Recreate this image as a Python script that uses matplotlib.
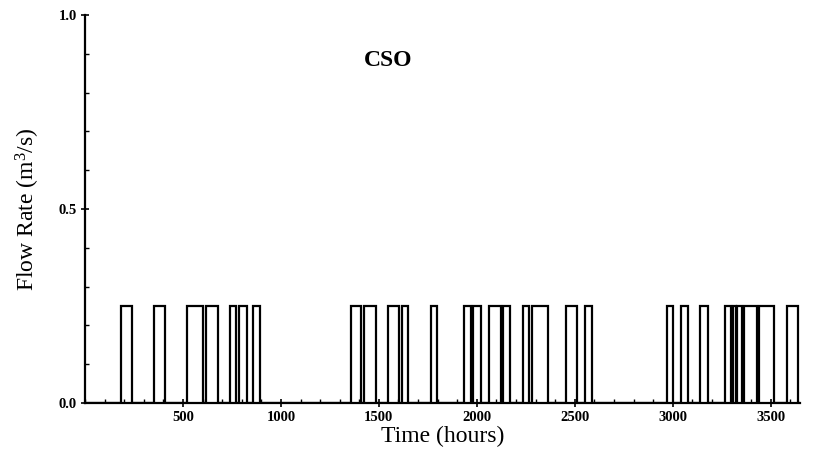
import matplotlib
matplotlib.use("Agg")
import matplotlib.pyplot as plt
import numpy as np
from matplotlib.ticker import MultipleLocator

# Overflow events (hours): start and end of each CSO pulse
pulse_start = [182, 352, 522, 617, 740, 784, 859,
               1356, 1423, 1549, 1617, 1764,
               1932, 1981, 2063, 2134, 2233, 2281, 2454, 2553,
               2968, 3042, 3138, 3264, 3308, 3328, 3362, 3440, 3583]
pulse_end = [238, 408, 604, 679, 770, 825, 894,
             1410, 1485, 1604, 1651, 1799,
             1971, 2022, 2124, 2168, 2267, 2362, 2512, 2590,
             3002, 3080, 3179, 3297, 3325, 3352, 3430, 3519, 3638]
pulse_height = [0.25] * len(pulse_start)

x_ticks = [500, 1000, 1500, 2000, 2500, 3000, 3500]
y_ticks = [0.0, 0.5, 1.0]

# Build step trace
xs, ys = [0], [0]
for s, e, h in zip(pulse_start, pulse_end, pulse_height):
    xs += [s, s, e, e]
    ys += [0, h, h, 0]
xs.append(3650)
ys.append(0)

plt.rcParams['font.family'] = ['Liberation Serif', 'DejaVu Serif']
plt.rcParams['mathtext.fontset'] = 'custom'
plt.rcParams['mathtext.rm'] = 'Liberation Serif'

fig = plt.figure(figsize=(8.14, 4.65), dpi=100)
ax = fig.add_axes([0.1044, 0.1333, 0.8786, 0.8344])
ax.plot(xs, ys, color='black', lw=1.6, solid_joinstyle='miter')

ax.set_xlim(0, 3650)
ax.set_ylim(0, 1.0)
ax.spines['top'].set_visible(False)
ax.spines['right'].set_visible(False)
for sp in ('left', 'bottom'):
    ax.spines[sp].set_linewidth(1.6)

ax.set_xticks(x_ticks)
ax.set_xticklabels([str(t) for t in x_ticks], fontsize=10.5, fontweight='bold')
ax.set_yticks(y_ticks)
ax.set_yticklabels([f"{t:.1f}" for t in y_ticks], fontsize=10.5, fontweight='bold')
ax.xaxis.set_minor_locator(MultipleLocator(100))
ax.yaxis.set_minor_locator(MultipleLocator(0.1))
ax.tick_params(which='major', direction='inout', length=6, width=1.2, pad=3)
ax.tick_params(which='minor', direction='in', length=3, width=1.0)

ax.set_xlabel("Time (hours)", fontsize=17, labelpad=1)
ax.set_ylabel("Flow Rate (m$\\mathregular{^3}$/s)", fontsize=17, labelpad=12)
ax.text(1546, 0.884, "CSO", fontsize=17, fontweight='bold', ha='center', va='center')

fig.savefig("out.png", dpi=100)
